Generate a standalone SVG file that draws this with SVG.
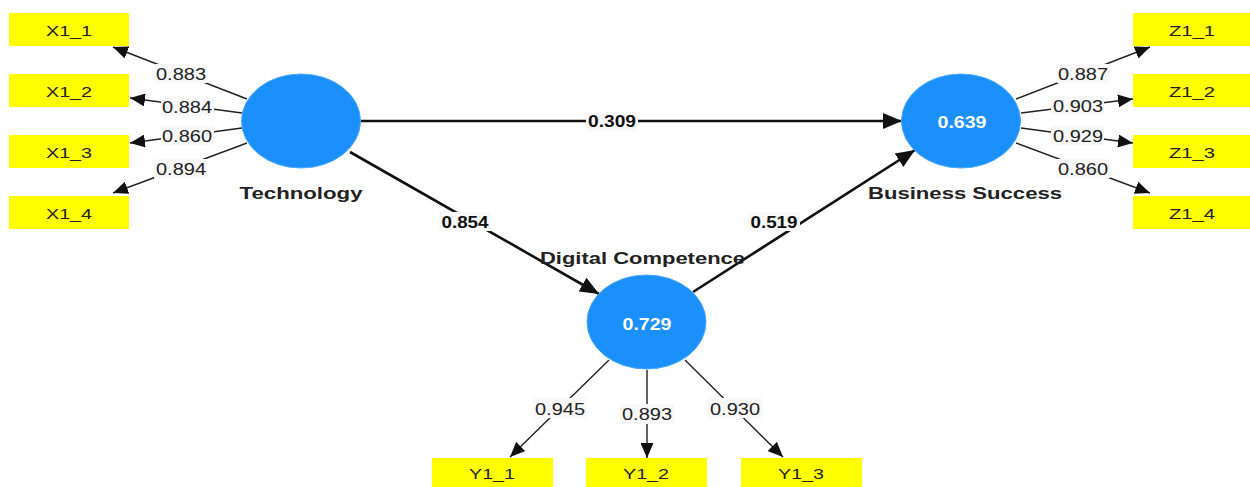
<svg xmlns="http://www.w3.org/2000/svg" width="1250" height="487" viewBox="0 0 1250 487">
<style>
.box{fill:#ffff00}
.bt{font-family:"Liberation Sans",Arial,sans-serif;font-size:15.5px;fill:#222;text-anchor:middle}
.lv{fill:#1b8ffc;stroke:#4aa8ff;stroke-width:1}
.lvt{font-family:"Liberation Sans",Arial,sans-serif;font-size:16px;font-weight:bold;fill:#fff;text-anchor:middle}
.name{font-family:"Liberation Sans",Arial,sans-serif;font-size:17px;font-weight:bold;fill:#222;text-anchor:middle}
.ld{stroke:#222;stroke-width:1.4;fill:none;marker-end:url(#ah)}
.st{stroke:#111;stroke-width:2.6;fill:none;marker-end:url(#ahb)}
.lbg{fill:#f8f8f8}
.lt{font-family:"Liberation Sans",Arial,sans-serif;font-size:16px;fill:#222;text-anchor:middle}
.ltb{font-family:"Liberation Sans",Arial,sans-serif;font-size:16px;font-weight:bold;fill:#111;text-anchor:middle}
</style>
<defs>
<marker id="ah" markerUnits="userSpaceOnUse" markerWidth="15" markerHeight="13" refX="15" refY="6.5" orient="auto"><path d="M0,0 L15,6.5 L0,13 z" fill="#111"/></marker>
<marker id="ahb" markerUnits="userSpaceOnUse" markerWidth="19" markerHeight="16" refX="19" refY="8" orient="auto"><path d="M0,0 L19,8 L0,16 z" fill="#111"/></marker>
</defs>
<rect width="1250" height="487" fill="#fff"/>
<g id="connectors">
<line class="ld" x1="247" y1="99" x2="113" y2="47"/>
<line class="ld" x1="242" y1="113" x2="130" y2="98"/>
<line class="ld" x1="242" y1="128" x2="130" y2="143"/>
<line class="ld" x1="247" y1="143" x2="113" y2="193"/>
<line class="ld" x1="1016" y1="99" x2="1150" y2="47"/>
<line class="ld" x1="1021" y1="113" x2="1133" y2="99"/>
<line class="ld" x1="1021" y1="128" x2="1133" y2="143"/>
<line class="ld" x1="1016" y1="143" x2="1150" y2="193"/>
<line class="ld" x1="609" y1="360" x2="510" y2="457"/>
<line class="ld" x1="647" y1="370" x2="647" y2="458"/>
<line class="ld" x1="685" y1="360" x2="783" y2="457"/>
<line class="st" x1="361" y1="121" x2="902" y2="121"/>
<line class="st" x1="350" y1="152" x2="599" y2="294"/>
<line class="st" x1="693" y1="292" x2="915" y2="150"/>
<g id="loading-labels">
<rect class="lbg" x="154" y="64" width="53" height="19"/><text class="lt" x="181" y="80" textLength="50" lengthAdjust="spacingAndGlyphs">0.883</text>
<rect class="lbg" x="161" y="97" width="53" height="19"/><text class="lt" x="187" y="112.5" textLength="50" lengthAdjust="spacingAndGlyphs">0.884</text>
<rect class="lbg" x="161" y="126" width="53" height="19"/><text class="lt" x="187" y="141.5" textLength="50" lengthAdjust="spacingAndGlyphs">0.860</text>
<rect class="lbg" x="154" y="159" width="53" height="19"/><text class="lt" x="181" y="175" textLength="50" lengthAdjust="spacingAndGlyphs">0.894</text>
<rect class="lbg" x="1057" y="64" width="53" height="19"/><text class="lt" x="1083" y="80" textLength="50" lengthAdjust="spacingAndGlyphs">0.887</text>
<rect class="lbg" x="1051" y="96" width="53" height="19"/><text class="lt" x="1078" y="112" textLength="50" lengthAdjust="spacingAndGlyphs">0.903</text>
<rect class="lbg" x="1051" y="126" width="53" height="19"/><text class="lt" x="1078" y="142" textLength="50" lengthAdjust="spacingAndGlyphs">0.929</text>
<rect class="lbg" x="1057" y="159" width="53" height="19"/><text class="lt" x="1083" y="175" textLength="50" lengthAdjust="spacingAndGlyphs">0.860</text>
<rect class="lbg" x="533" y="398" width="54" height="20"/><text class="lt" x="560" y="415" textLength="50" lengthAdjust="spacingAndGlyphs">0.945</text>
<rect class="lbg" x="620" y="404" width="54" height="20"/><text class="lt" x="647" y="420" textLength="50" lengthAdjust="spacingAndGlyphs">0.893</text>
<rect class="lbg" x="708" y="398" width="54" height="20"/><text class="lt" x="735" y="415" textLength="50" lengthAdjust="spacingAndGlyphs">0.930</text>
</g>
<g id="path-labels">
<rect class="lbg" x="586" y="112" width="52" height="19"/><text class="ltb" x="612" y="127.3" textLength="48" lengthAdjust="spacingAndGlyphs">0.309</text>
<rect class="lbg" x="439" y="212" width="52" height="19"/><text class="ltb" x="465" y="227.7" textLength="47" lengthAdjust="spacingAndGlyphs">0.854</text>
<rect class="lbg" x="748" y="212" width="52" height="19"/><text class="ltb" x="774" y="227.7" textLength="47" lengthAdjust="spacingAndGlyphs">0.519</text>
</g>
</g>
<g id="X1_1"><rect class="box" x="9" y="13" width="120" height="33"/><text class="bt" x="69" y="35.5" textLength="46" lengthAdjust="spacingAndGlyphs">X1_1</text></g>
<g id="X1_2"><rect class="box" x="9" y="74" width="120" height="33"/><text class="bt" x="69" y="96.5" textLength="46" lengthAdjust="spacingAndGlyphs">X1_2</text></g>
<g id="X1_3"><rect class="box" x="9" y="135" width="120" height="33"/><text class="bt" x="69" y="157.5" textLength="46" lengthAdjust="spacingAndGlyphs">X1_3</text></g>
<g id="X1_4"><rect class="box" x="9" y="196" width="120" height="33"/><text class="bt" x="69" y="218.5" textLength="46" lengthAdjust="spacingAndGlyphs">X1_4</text></g>
<g id="Z1_1"><rect class="box" x="1133" y="13" width="117" height="33"/><text class="bt" x="1192" y="35.5" textLength="46" lengthAdjust="spacingAndGlyphs">Z1_1</text></g>
<g id="Z1_2"><rect class="box" x="1133" y="74" width="117" height="33"/><text class="bt" x="1192" y="96.5" textLength="46" lengthAdjust="spacingAndGlyphs">Z1_2</text></g>
<g id="Z1_3"><rect class="box" x="1133" y="135" width="117" height="33"/><text class="bt" x="1192" y="157.5" textLength="46" lengthAdjust="spacingAndGlyphs">Z1_3</text></g>
<g id="Z1_4"><rect class="box" x="1133" y="196" width="117" height="33"/><text class="bt" x="1192" y="218.5" textLength="46" lengthAdjust="spacingAndGlyphs">Z1_4</text></g>
<g id="Y1_1"><rect class="box" x="432" y="458" width="121" height="33"/><text class="bt" x="492" y="479" textLength="46" lengthAdjust="spacingAndGlyphs">Y1_1</text></g>
<g id="Y1_2"><rect class="box" x="586" y="458" width="121" height="33"/><text class="bt" x="646" y="479" textLength="46" lengthAdjust="spacingAndGlyphs">Y1_2</text></g>
<g id="Y1_3"><rect class="box" x="741" y="458" width="121" height="33"/><text class="bt" x="801" y="479" textLength="46" lengthAdjust="spacingAndGlyphs">Y1_3</text></g>
<g id="Technology"><ellipse class="lv" cx="301" cy="121" rx="59.5" ry="47"/><text class="name" x="301" y="199" textLength="123" lengthAdjust="spacingAndGlyphs">Technology</text></g>
<g id="BusinessSuccess"><ellipse class="lv" cx="961" cy="121" rx="59.5" ry="47"/><text class="lvt" x="962" y="127.7" textLength="49" lengthAdjust="spacingAndGlyphs">0.639</text><text class="name" x="965" y="199" textLength="194" lengthAdjust="spacingAndGlyphs">Business Success</text></g>
<g id="DigitalCompetence"><ellipse class="lv" cx="646.5" cy="322" rx="59.5" ry="47"/><text class="lvt" x="647" y="330" textLength="49" lengthAdjust="spacingAndGlyphs">0.729</text><text class="name" x="642.5" y="264" textLength="205" lengthAdjust="spacingAndGlyphs">Digital Competence</text></g>
</svg>
